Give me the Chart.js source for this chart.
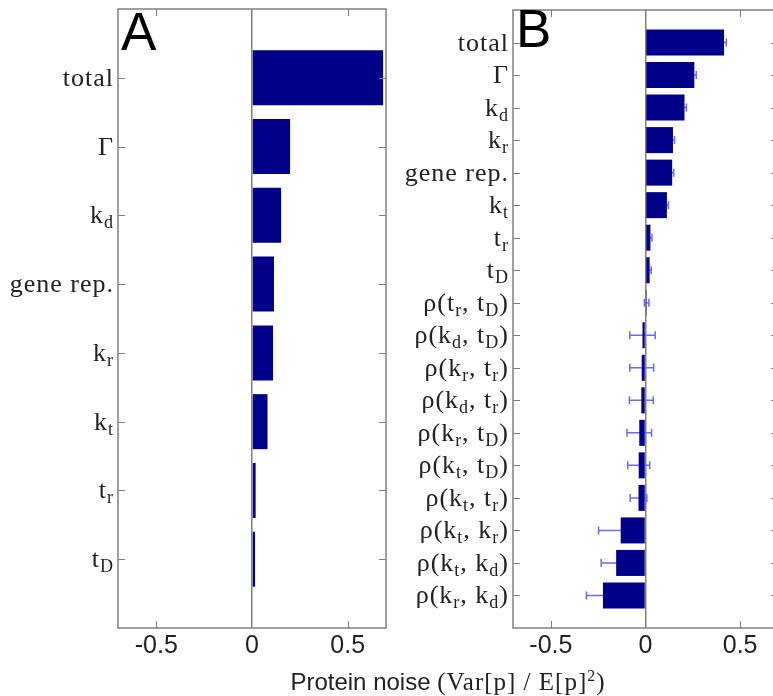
<!DOCTYPE html>
<html>
<head>
<meta charset="utf-8">
<script src="https://cdn.jsdelivr.net/npm/chart.js@4.4.1/dist/chart.umd.min.js"></script>
<style>
  html, body { margin: 0; padding: 0; background: #fff; }
  body { width: 773px; height: 696px; position: relative; overflow: hidden; }
  canvas { position: absolute; top: 0; }
  #xtitle {
    position: absolute; left: 148px; width: 600px; top: 664px;
    text-align: center; font: 24px "Liberation Sans", Arial, sans-serif;
    line-height: 24px; color: #222; white-space: nowrap;
  }
  #xtitle .m { font-family: "Liberation Serif", "Times New Roman", serif; font-size: 25px; letter-spacing: 1px; }
</style>
</head>
<body>
<canvas id="chartA" width="400" height="696" style="left:0"></canvas>
<canvas id="chartB" width="400" height="696" style="left:390px"></canvas>
<div id="xtitle">Protein noise <span class="m">(Var[p] / E[p]<sup style="font-size:16px">2</sup>)</span></div>
<script>
// panel A
const catsA = ['total', 'Γ', 'k_d', 'gene rep.', 'k_r', 'k_t', 't_r', 't_D'];
const noiseA = [0.685, 0.199, 0.152, 0.115, 0.11, 0.081, 0.019, 0.016];

// panel B
const catsB = ['total', 'Γ', 'k_d', 'k_r', 'gene rep.', 'k_t', 't_r', 't_D',
  'ρ(t_r, t_D)', 'ρ(k_d, t_D)', 'ρ(k_r, t_r)', 'ρ(k_d, t_r)', 'ρ(k_r, t_D)',
  'ρ(k_t, t_D)', 'ρ(k_t, t_r)', 'ρ(k_t, k_r)', 'ρ(k_t, k_d)', 'ρ(k_r, k_d)'];
const noiseB = [0.415, 0.258, 0.206, 0.145, 0.141, 0.113, 0.026, 0.022,
  0.006, -0.016, -0.02, -0.022, -0.033, -0.036, -0.037, -0.131, -0.155, -0.225];
const errB = [0.012, 0.01, 0.01, 0.008, 0.008, 0.008, 0.008, 0.008,
  0.012, 0.067, 0.063, 0.063, 0.065, 0.058, 0.044, 0.117, 0.079, 0.087];

const xTicks = [-0.5, 0, 0.5];

const BAR = '#000088';
const ERR = '#6b6bff';
const FRAME = '#808080';
const LABEL_FONT = '26px "Liberation Serif", "Times New Roman", serif';
const SUB_FONT = '18px "Liberation Serif", "Times New Roman", serif';

// 'k_d' -> k + subscript d
function parseLabel(s) {
  const parts = [];
  for (let i = 0; i < s.length; i++) {
    if (s[i] === '_') { parts.push({ t: s[i + 1], sub: true }); i++; }
    else if (parts.length && !parts[parts.length - 1].sub) parts[parts.length - 1].t += s[i];
    else parts.push({ t: s[i], sub: false });
  }
  return parts;
}

function drawLabel(ctx, text, xRight, y) {
  const parts = parseLabel(text);
  ctx.letterSpacing = '1px';
  let w = 0;
  parts.forEach(p => {
    ctx.font = p.sub ? SUB_FONT : LABEL_FONT;
    p.w = ctx.measureText(p.t).width;
    w += p.w;
  });
  let x = xRight - w + 1;
  parts.forEach(p => {
    ctx.font = p.sub ? SUB_FONT : LABEL_FONT;
    ctx.fillText(p.t, x, y + (p.sub ? 5 : 0));
    x += p.w;
  });
  ctx.letterSpacing = '0px';
}

function makeChart(id, cats, values, errs, opts) {
  const labels = ['', ...cats, ''];
  const data = [null, ...values, null];

  const decor = {
    id: 'decor',
    beforeDatasetsDraw(chart) {
      if (!errs) return;
      const { ctx, scales: { x, y } } = chart;
      ctx.save();
      ctx.strokeStyle = ERR;
      ctx.lineWidth = 1.5;
      errs.forEach((e, i) => {
        const py = y.getPixelForValue(i + 1);
        const x0 = x.getPixelForValue(values[i] - e);
        const x1 = x.getPixelForValue(values[i] + e);
        ctx.beginPath();
        ctx.moveTo(x0, py); ctx.lineTo(x1, py);
        ctx.moveTo(x0, py - 4); ctx.lineTo(x0, py + 4);
        ctx.moveTo(x1, py - 4); ctx.lineTo(x1, py + 4);
        ctx.stroke();
      });
      ctx.restore();
    },
    afterDraw(chart) {
      const { ctx, chartArea: a, scales: { x, y } } = chart;
      ctx.save();
      ctx.strokeStyle = FRAME;
      ctx.lineWidth = 1.5;
      ctx.strokeRect(a.left, a.top, a.right - a.left, a.bottom - a.top);
      ctx.lineWidth = 1;
      ctx.beginPath();
      cats.forEach((c, i) => {
        const py = Math.round(y.getPixelForValue(i + 1)) + 0.5;
        ctx.moveTo(a.left, py); ctx.lineTo(a.left + 7, py);
        ctx.moveTo(a.right, py); ctx.lineTo(a.right - 7, py);
      });
      xTicks.forEach(v => {
        if (v === 0) return;
        const px = Math.round(x.getPixelForValue(v)) + 0.5;
        ctx.moveTo(px, a.top); ctx.lineTo(px, a.top + 7);
        ctx.moveTo(px, a.bottom); ctx.lineTo(px, a.bottom - 7);
      });
      ctx.stroke();

      ctx.fillStyle = '#222';
      ctx.textAlign = 'left';
      ctx.textBaseline = 'alphabetic';
      cats.forEach((c, i) => {
        drawLabel(ctx, c, a.left - 5, y.getPixelForValue(i + 1) + 8);
      });

      ctx.fillStyle = '#000';
      ctx.font = '53px "Liberation Sans", Arial, sans-serif';
      ctx.fillText(opts.letter, a.left + opts.letterDx, opts.letterY);
      ctx.restore();
    }
  };

  return new Chart(document.getElementById(id), {
    type: 'bar',
    data: {
      labels: labels,
      datasets: [{
        data: data,
        backgroundColor: BAR,
        borderWidth: 0,
        barPercentage: 0.8,
        categoryPercentage: 1
      }]
    },
    options: {
      indexAxis: 'y',
      responsive: false,
      animation: false,
      devicePixelRatio: 1,
      layout: { padding: { left: 0, right: opts.padRight, top: opts.padTop, bottom: 28 } },
      plugins: { legend: { display: false }, tooltip: { enabled: false } },
      scales: {
        x: {
          type: 'linear',
          min: -0.7,
          max: 0.7,
          afterBuildTicks: (s) => { s.ticks = xTicks.map(v => ({ value: v })); },
          afterFit: (s) => { s.height = 40; },
          border: { display: false },
          grid: {
            drawTicks: false,
            lineWidth: 1.5,
            color: (c) => (c.tick && c.tick.value === 0 ? FRAME : 'rgba(0,0,0,0)')
          },
          ticks: {
            padding: 3,
            color: '#222',
            font: { family: '"Liberation Sans", Arial, sans-serif', size: 25 },
            callback: (v) => String(v)
          }
        },
        y: {
          type: 'category',
          offset: false,
          afterFit: (s) => { s.width = opts.axisWidth; },
          border: { display: false },
          grid: { display: false },
          ticks: { display: false }
        }
      }
    },
    plugins: [decor]
  });
}

makeChart('chartA', catsA, noiseA, null,
  { axisWidth: 118, padRight: 14, padTop: 9, letter: 'A', letterDx: 3, letterY: 50 });
makeChart('chartB', catsB, noiseB, errB,
  { axisWidth: 123, padRight: 12, padTop: 10, letter: 'B', letterDx: 3, letterY: 47 });
</script>
</body>
</html>
